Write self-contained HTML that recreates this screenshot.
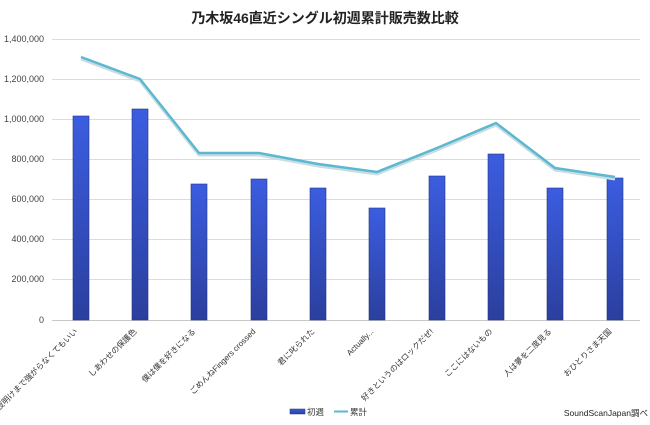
<!DOCTYPE html>
<html><head><meta charset="utf-8"><style>
body{margin:0;background:#fff;}
svg{display:block;font-family:"Liberation Sans","Noto Sans CJK JP",sans-serif;}
</style></head><body>
<svg width="650" height="425" viewBox="0 0 650 425">
<defs>
<linearGradient id="g" x1="0" y1="0" x2="0" y2="1">
<stop offset="0" stop-color="#3b5de0"/><stop offset="1" stop-color="#2b3f9e"/>
</linearGradient>
</defs>
<text x="325" y="23" text-anchor="middle" font-size="14" font-weight="bold" fill="#222">乃木坂46直近シングル初週累計販売数比較</text>
<g stroke="#dcdcdc" stroke-width="1">
<line x1="52" x2="640" y1="39.5" y2="39.5"/>
<line x1="52" x2="640" y1="79.5" y2="79.5"/>
<line x1="52" x2="640" y1="119.5" y2="119.5"/>
<line x1="52" x2="640" y1="159.5" y2="159.5"/>
<line x1="52" x2="640" y1="199.5" y2="199.5"/>
<line x1="52" x2="640" y1="239.5" y2="239.5"/>
<line x1="52" x2="640" y1="279.5" y2="279.5"/>
<line x1="52" x2="640" y1="320.5" y2="320.5" stroke="#c8c8c8"/>
</g>
<g font-size="9" fill="#444" text-anchor="end">
<text x="44" y="42">1,400,000</text>
<text x="44" y="82">1,200,000</text>
<text x="44" y="122">1,000,000</text>
<text x="44" y="162">800,000</text>
<text x="44" y="202">600,000</text>
<text x="44" y="242">400,000</text>
<text x="44" y="282">200,000</text>
<text x="44" y="323">0</text>
</g>
<g fill="url(#g)" stroke="#23347f" stroke-width="0.6">
<rect x="73" y="116" width="16" height="204"/>
<rect x="132" y="109" width="16" height="211"/>
<rect x="191" y="184" width="16" height="136"/>
<rect x="251" y="179" width="16" height="141"/>
<rect x="310" y="188" width="16" height="132"/>
<rect x="369" y="208" width="16" height="112"/>
<rect x="429" y="176" width="16" height="144"/>
<rect x="488" y="154" width="16" height="166"/>
<rect x="547" y="188" width="16" height="132"/>
<rect x="607" y="178" width="16" height="142"/>
</g>
<polyline fill="none" stroke="#c8dce2" stroke-width="3" points="81,59 140,81 199,155 259,155 318,166 377,174 437,150 496,125 555,170 615,179"/>
<polyline fill="none" stroke="#5bb8d0" stroke-width="2.5" points="81,57 140,79 199,153 259,153 318,164 377,172 437,148 496,123 555,168 615,177"/>
<g font-size="8" fill="#333" text-anchor="end">
<text transform="translate(78,332) rotate(-45)">夜明けまで強がらなくてもいい</text>
<text transform="translate(137,332) rotate(-45)">しあわせの保護色</text>
<text transform="translate(196,332) rotate(-45)">僕は僕を好きになる</text>
<text transform="translate(256,332) rotate(-45)">ごめんねFingers crossed</text>
<text transform="translate(315,332) rotate(-45)">君に叱られた</text>
<text transform="translate(374,332) rotate(-45)">Actually...</text>
<text transform="translate(434,332) rotate(-45)">好きというのはロックだぜ!</text>
<text transform="translate(493,332) rotate(-45)">ここにはないもの</text>
<text transform="translate(552,332) rotate(-45)">人は夢を二度見る</text>
<text transform="translate(612,332) rotate(-45)">おひとりさま天国</text>
</g>
<rect x="290" y="409" width="15" height="5" fill="url(#g)" stroke="#23347f" stroke-width="0.5"/>
<text x="307" y="415" font-size="8.5" fill="#333">初週</text>
<line x1="334" x2="348" y1="411.5" y2="411.5" stroke="#5bb8d0" stroke-width="2"/>
<text x="350" y="415" font-size="8.5" fill="#333">累計</text>
<text x="648" y="416" font-size="8.5" fill="#222" text-anchor="end">SoundScanJapan調べ</text>
</svg>
</body></html>
